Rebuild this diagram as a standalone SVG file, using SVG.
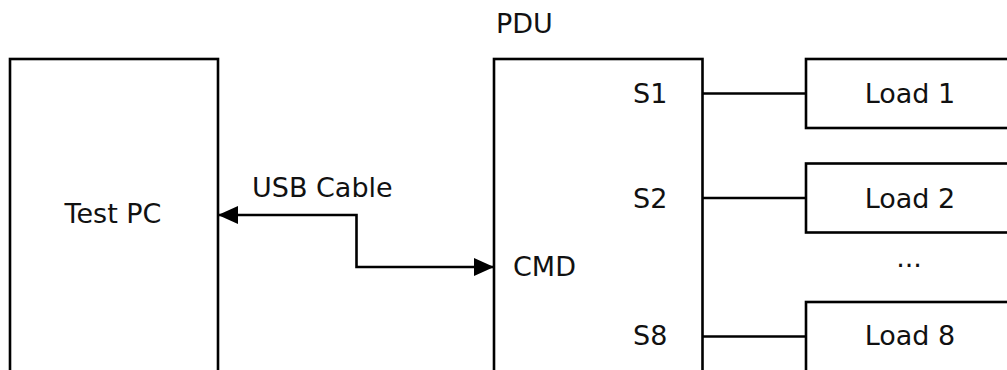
<svg xmlns="http://www.w3.org/2000/svg" width="1007" height="370" viewBox="0 0 1007 370">
<style>
  .box { fill: #ffffff; stroke: #000000; stroke-width: 2.6; }
  .lbl { font-family: "DejaVu Sans", sans-serif; font-size: 27px; fill: #111111; }
  .wire { fill: none; stroke: #000000; stroke-width: 2.6; }
</style>
<defs>
  <marker id="arrow" markerWidth="20" markerHeight="18" refX="20" refY="9" orient="auto-start-reverse" markerUnits="userSpaceOnUse">
    <path d="M0,0 L20,9 L0,18 Z" fill="#000000"/>
  </marker>
</defs>
<rect width="1007" height="370" fill="#ffffff"/>
<g id="test-pc">
  <rect class="box" x="10" y="59" width="208" height="330"/>
  <text class="lbl" x="113" y="223" text-anchor="middle">Test PC</text>
</g>
<g id="pdu">
  <text class="lbl" x="496" y="33">PDU</text>
  <rect class="box" x="494" y="59" width="208.5" height="330"/>
  <text class="lbl" x="633" y="103">S1</text>
  <text class="lbl" x="633" y="208">S2</text>
  <text class="lbl" x="513" y="276">CMD</text>
  <text class="lbl" x="633" y="345">S8</text>
</g>
<g id="load1">
  <rect class="box" x="806" y="59" width="208" height="69"/>
  <text class="lbl" x="910" y="103" text-anchor="middle">Load 1</text>
</g>
<g id="load2">
  <rect class="box" x="806" y="163.5" width="208" height="69"/>
  <text class="lbl" x="910" y="208" text-anchor="middle">Load 2</text>
</g>
<g id="ellipsis">
  <text class="lbl" x="909" y="267" text-anchor="middle" fill="#444444">...</text>
</g>
<g id="load8">
  <rect class="box" x="806" y="302" width="208" height="100"/>
  <text class="lbl" x="910" y="345" text-anchor="middle">Load 8</text>
</g>
<g id="connectors">
  <path class="wire" d="M218,215 L356.5,215 L356.5,267 L494,267" marker-start="url(#arrow)" marker-end="url(#arrow)"/>
  <text class="lbl" x="252" y="197">USB Cable</text>
  <line class="wire" x1="702.5" y1="93.5" x2="806" y2="93.5"/>
  <line class="wire" x1="702.5" y1="198" x2="806" y2="198"/>
  <line class="wire" x1="702.5" y1="336.5" x2="806" y2="336.5"/>
</g>
</svg>
